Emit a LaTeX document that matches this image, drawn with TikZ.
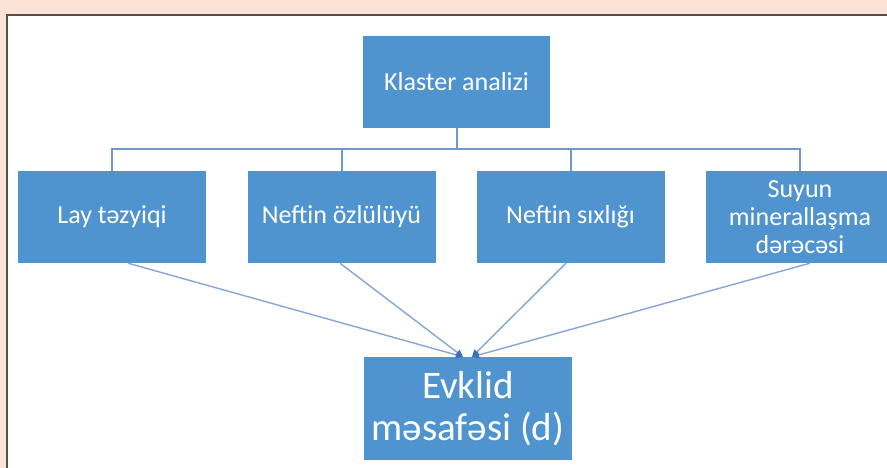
\documentclass[tikz,border=0pt]{standalone}
\usepackage{fontspec}
\setmainfont{Carlito}
\usetikzlibrary{arrows.meta,calc}
\definecolor{peach}{HTML}{FDE3D6}
\definecolor{frame}{HTML}{5A4F4B}
\definecolor{boxblue}{HTML}{4F93CF}
\definecolor{busblue}{HTML}{6F98C8}
\definecolor{linkblue}{HTML}{86A6DA}
\definecolor{headblue}{HTML}{3F70BA}
\tikzset{
  bluebox/.style={fill=boxblue, draw=none, text=white, align=center, inner sep=0pt,
    minimum width=188pt, minimum height=92pt, font=\fontsize{26}{28}\selectfont},
  bigbox/.style={bluebox, minimum width=208pt, minimum height=103pt, font=\fontsize{39}{42}\selectfont},
  busline/.style={draw=busblue, line width=2pt},
  link/.style={draw=linkblue, line width=1.4pt, -{Triangle[length=7pt,width=7pt,fill=headblue,color=headblue]}}
}
\begin{document}
\begin{tikzpicture}[x=1pt,y=1pt]
\path[use as bounding box, fill=peach] (0,0) rectangle (887,-468);
\fill[white] (6.5,-480) rectangle (900,-15);
\draw[frame, line width=2pt] (6.5,-480) -- (6.5,-15) -- (900,-15);
\node[bluebox, minimum width=187pt] (top) at (456.5,-82) {Klaster analizi};
\node[bluebox] (b1) at (112,-217) {Lay təzyiqi};
\node[bluebox] (b2) at (341.5,-217) {Neftin özlülüyü};
\node[bluebox] (b3) at (570.5,-217) {Neftin sıxlığı};
\node[bluebox] (b4) at (800,-217) {Suyun\\minerallaşma\\dərəcəsi};
\node[bigbox] (ev) at (468,-408.5) {Evklid\\məsafəsi (d)};
\coordinate (busy) at (0,-149);
\draw[busline] (top.south) -- (top.south |- busy);
\draw[busline] (b1.north) -- (b1.north |- busy) -- (b4.north |- busy) -- (b4.north);
\draw[busline] (b2.north) -- (b2.north |- busy);
\draw[busline] (b3.north) -- (b3.north |- busy);
\draw[link] ([xshift=16pt]b1.south) -- ([xshift=-5pt]ev.north);
\draw[link] ([xshift=-1.5pt]b2.south) -- ([xshift=-5pt]ev.north);
\draw[link] ([xshift=-4.5pt]b3.south) -- ([xshift=4pt]ev.north);
\draw[link] ([xshift=10pt]b4.south) -- ([xshift=4pt]ev.north);
\end{tikzpicture}
\end{document}
